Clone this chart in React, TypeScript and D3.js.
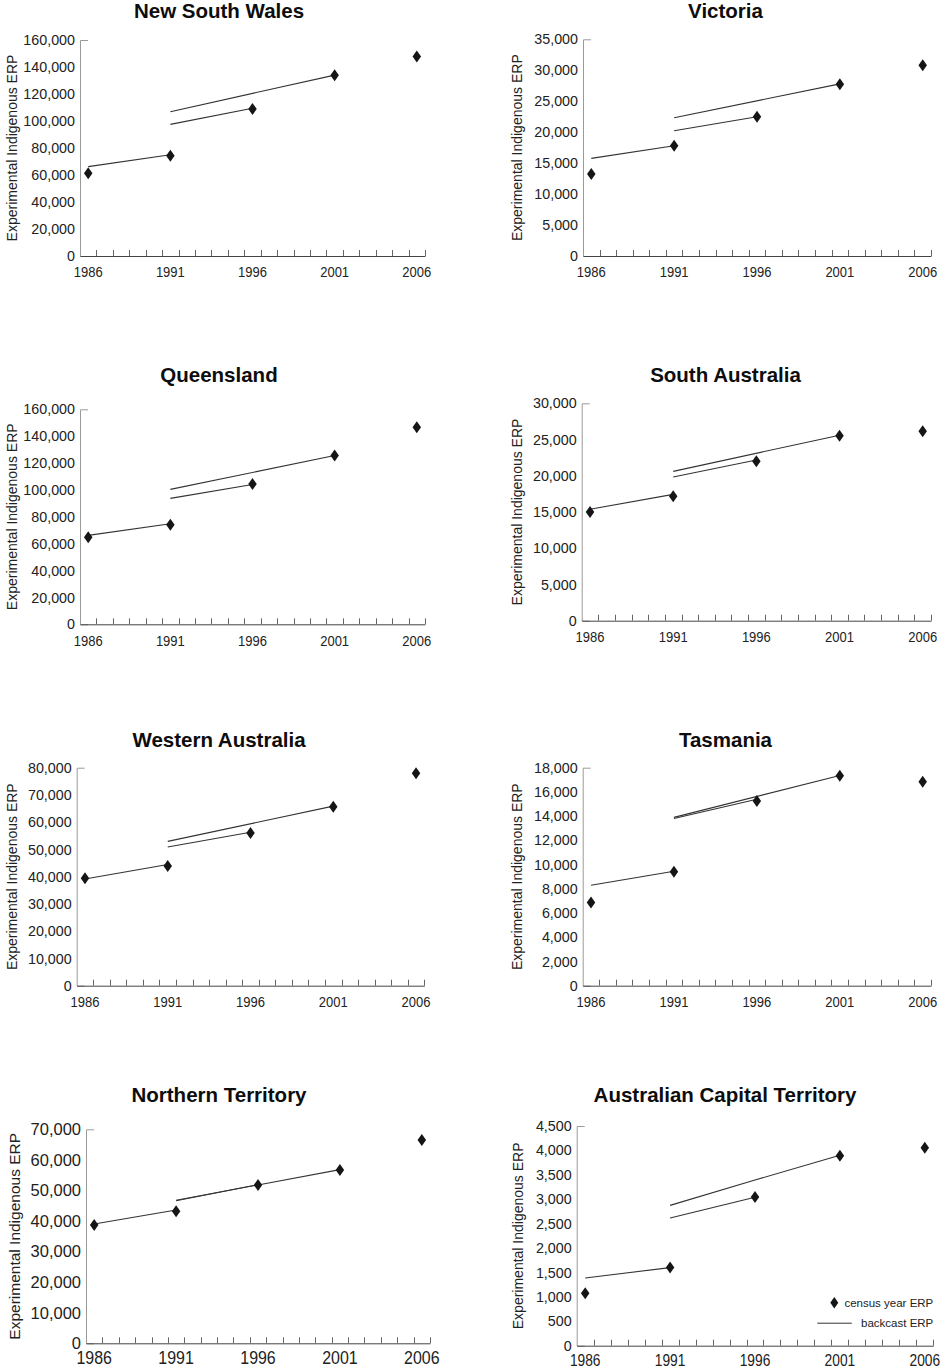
import React, { useRef, useEffect } from "react";
import * as d3 from "d3";

// categories on the x axis (one band per year), labels every 5th
const years = [1986, 1987, 1988, 1989, 1990, 1991, 1992, 1993, 1994, 1995, 1996,
  1997, 1998, 1999, 2000, 2001, 2002, 2003, 2004, 2005, 2006];
const labelYears = [1986, 1991, 1996, 2001, 2006];
const censusYears = [1986, 1991, 1996, 2001, 2006];

const states = ["New South Wales", "Victoria", "Queensland", "South Australia",
  "Western Australia", "Tasmania", "Northern Territory", "Australian Capital Territory"];

const yMaxes = [160000, 35000, 160000, 30000, 80000, 18000, 70000, 4500];
const ySteps = [20000, 5000, 20000, 5000, 10000, 2000, 10000, 500];

// census year ERP (diamonds)
const nswCensus = [61300, 74300, 108900, 133800, 147700];
const vicCensus = [13240, 17820, 22500, 27720, 30790];
const qldCensus = [64700, 74100, 104400, 125700, 146600];
const saCensus = [15000, 17160, 21990, 25530, 26130];
const waCensus = [39390, 43930, 56040, 65700, 77930];
const tasCensus = [6880, 9410, 15250, 17340, 16840];
const ntCensus = [38700, 43180, 51780, 56690, 66500];
const actCensus = [1072, 1604, 3045, 3891, 4055];

// backcast ERP segments: [year, value] pairs
const nswBackcast = [[[1986, 66200], [1991, 75000]], [[1991, 97500], [1996, 109400]], [[1991, 106900], [2001, 134000]]];
const vicBackcast = [[[1986, 15770], [1991, 17800]], [[1991, 20240], [1996, 22500]], [[1991, 22340], [2001, 27800]]];
const qldBackcast = [[[1986, 66200], [1991, 74800]], [[1991, 93700], [1996, 104000]], [[1991, 100400], [2001, 125600]]];
const saBackcast = [[[1986, 15370], [1991, 17430]], [[1991, 19830], [1996, 22170]], [[1991, 20610], [2001, 25600]]];
const waBackcast = [[[1986, 39150], [1991, 44500]], [[1991, 50900], [1996, 56300]], [[1991, 52970], [2001, 65900]]];
const tasBackcast = [[[1986, 8290], [1991, 9450]], [[1991, 13800], [1996, 15400]], [[1991, 13900], [2001, 17350]]];
const ntBackcast = [[[1986, 39030], [1991, 43600]], [[1991, 46650], [1996, 51900]], [[1991, 46800], [2001, 56800]]];
const actBackcast = [[[1986, 1386], [1991, 1600]], [[1991, 2615], [1996, 3040]], [[1991, 2874], [1996, 3393], [2001, 3900]]];

const census = [nswCensus, vicCensus, qldCensus, saCensus, waCensus, tasCensus, ntCensus, actCensus];
const backcasts = [nswBackcast, vicBackcast, qldBackcast, saBackcast, waBackcast, tasBackcast, ntBackcast, actBackcast];

const yLabel = "Experimental Indigenous ERP";
const legendLabels = ["census year ERP", "backcast ERP"];

// panel geometry
const small = { tickFont: 14.3, labelFont: 14, xFont: 15.5, xPad: 10.5 };
const layouts = [
  { x0: 80, x1: 425, top: 40, bottom: 256, titleX: 219, titleY: 18, labelX: 17, ...small },
  { x0: 583, x1: 931, top: 39.3, bottom: 256, titleX: 725.5, titleY: 18, labelX: 522, ...small },
  { x0: 80, x1: 425, top: 409.3, bottom: 624.3, titleX: 219, titleY: 381.7, labelX: 17, ...small },
  { x0: 581.7, x1: 931, top: 403.3, bottom: 620.7, titleX: 725.5, titleY: 381.7, labelX: 522, ...small },
  { x0: 76.7, x1: 424.3, top: 767.7, bottom: 985.7, titleX: 219, titleY: 747.3, labelX: 17, ...small },
  { x0: 582.7, x1: 931, top: 767.7, bottom: 985.7, titleX: 725.5, titleY: 747.3, labelX: 522, ...small },
  { x0: 86, x1: 430, top: 1129.3, bottom: 1343.3, titleX: 219, titleY: 1101.7, labelX: 20, tickFont: 16.5, labelFont: 15.5, xFont: 19, xPad: 7.5 },
  { x0: 576.7, x1: 933.3, top: 1126, bottom: 1345.7, titleX: 725, titleY: 1101.7, labelX: 522.5, tickFont: 14.3, labelFont: 14, xFont: 16.4, xPad: 9 },
];

const FONT = "'Liberation Sans', Arial, Helvetica, sans-serif";
const INK = "#151515";
const TEXT = "#222";

const diamond = (w: number, h: number) => {
  const p = d3.path();
  p.moveTo(0, -h / 2);
  p.lineTo(w / 2, 0);
  p.lineTo(0, h / 2);
  p.lineTo(-w / 2, 0);
  p.closePath();
  return p.toString();
};

const App = () => {
  const ref = useRef<HTMLDivElement>(null);

  useEffect(() => {
    const width = 947;
    const height = 1370;

    const svg = d3.create("svg")
      .attr("width", width)
      .attr("height", height)
      .attr("viewBox", [0, 0, width, height])
      .attr("style", "position:absolute;left:0;top:0;background:#fff")
      .style("font-family", FONT);

    states.forEach((name, i) => {
      const L = layouts[i];
      const g = svg.append("g");

      const x = d3.scaleBand<number>().domain(years).range([L.x0, L.x1]);
      const cx = (yr: number) => (x(yr) as number) + x.bandwidth() / 2;
      const y = d3.scaleLinear().domain([0, yMaxes[i]]).range([L.bottom, L.top]);

      // title
      g.append("text")
        .attr("x", L.titleX)
        .attr("y", L.titleY)
        .attr("text-anchor", "middle")
        .attr("fill", "#0d0d0d")
        .style("font-size", "20.5px")
        .style("font-weight", "bold")
        .text(name);

      // y axis
      g.append("g")
        .attr("transform", `translate(${L.x0},0)`)
        .call(d3.axisLeft(y)
          .tickValues(d3.range(0, yMaxes[i] + 1, ySteps[i]))
          .tickFormat(d3.format(","))
          .tickSize(0)
          .tickSizeOuter(-8)
          .tickPadding(5))
        .call(a => a.select(".domain").attr("stroke", "#9a9a9a"))
        .call(a => a.selectAll("text")
          .attr("fill", TEXT)
          .style("font-size", `${L.tickFont}px`)
          .style("font-family", FONT));

      // y axis title
      g.append("text")
        .attr("transform", `translate(${L.labelX},${(L.top + L.bottom) / 2}) rotate(-90)`)
        .attr("text-anchor", "middle")
        .attr("fill", TEXT)
        .style("font-size", `${L.labelFont}px`)
        .text(yLabel);

      // x axis
      g.append("g")
        .attr("transform", `translate(0,${L.bottom})`)
        .call(d3.axisBottom(x)
          .tickValues(labelYears)
          .tickSize(0)
          .tickSizeOuter(0)
          .tickPadding(L.xPad))
        .call(a => a.select(".domain").attr("stroke", "#444"))
        .call(a => a.selectAll("text")
          .attr("fill", TEXT)
          .attr("transform", "scale(0.84,1)")
          .style("font-size", `${L.xFont}px`)
          .style("font-family", FONT));

      // category boundary ticks (inside)
      g.append("g")
        .selectAll("line")
        .data(years)
        .join("line")
        .attr("x1", d => Math.round((x(d) as number) + x.bandwidth()) + 0.5)
        .attr("x2", d => Math.round((x(d) as number) + x.bandwidth()) + 0.5)
        .attr("y1", L.bottom)
        .attr("y2", L.bottom - 6)
        .attr("stroke", "#666")
        .attr("stroke-width", 1);

      // backcast lines
      const line = d3.line<number[]>()
        .x(d => cx(d[0]))
        .y(d => y(d[1]));

      g.append("g")
        .selectAll("path")
        .data(backcasts[i])
        .join("path")
        .attr("d", d => line(d))
        .attr("fill", "none")
        .attr("stroke", "#333")
        .attr("stroke-width", 1.1);

      // census diamonds
      g.append("g")
        .selectAll("path")
        .data(census[i])
        .join("path")
        .attr("transform", (d, j) => `translate(${cx(censusYears[j])},${y(d)})`)
        .attr("d", diamond(8.5, 12))
        .attr("fill", INK);

      // legend only in the last panel
      if (i === states.length - 1) {
        const lg = g.append("g").style("font-size", "11.5px").attr("fill", TEXT);
        lg.append("path")
          .attr("transform", `translate(${L.x1 - 99},${L.bottom - 43})`)
          .attr("d", diamond(8, 11.5))
          .attr("fill", INK);
        lg.append("text")
          .attr("x", L.x1)
          .attr("y", L.bottom - 43)
          .attr("dy", "0.35em")
          .attr("text-anchor", "end")
          .text(legendLabels[0]);
        lg.append("line")
          .attr("x1", L.x1 - 116)
          .attr("x2", L.x1 - 81.5)
          .attr("y1", L.bottom - 22.5)
          .attr("y2", L.bottom - 22.5)
          .attr("stroke", "#333");
        lg.append("text")
          .attr("x", L.x1)
          .attr("y", L.bottom - 22.5)
          .attr("dy", "0.35em")
          .attr("text-anchor", "end")
          .text(legendLabels[1]);
      }
    });

    if (ref.current) {
      ref.current.innerHTML = "";
      ref.current.appendChild(svg.node() as SVGSVGElement);
    }
  }, []);

  return <div ref={ref} />;
};

export default App;
